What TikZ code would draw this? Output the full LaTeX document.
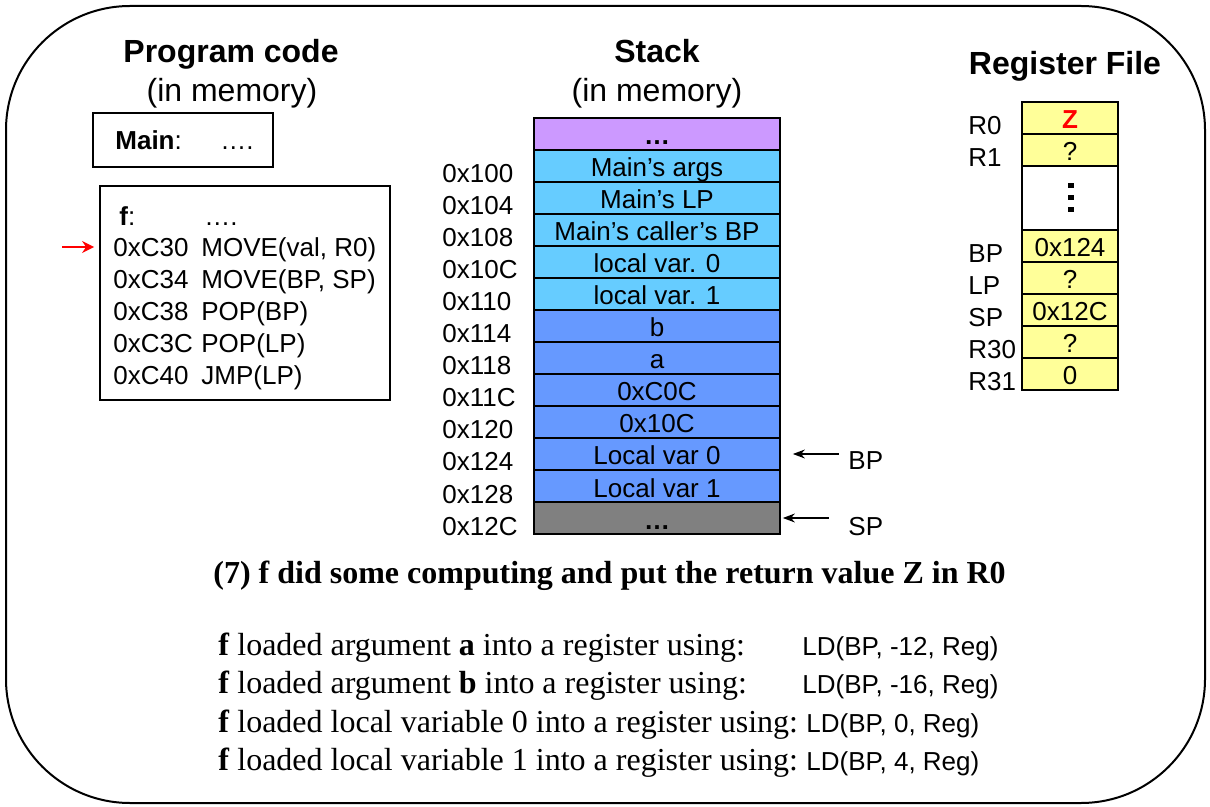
\documentclass[tikz,border=0pt]{standalone}
\usepackage{fontspec}
\setmainfont{Liberation Sans}
\newfontfamily\timesfont{Liberation Serif}
\usetikzlibrary{arrows.meta,calc}

\definecolor{stackpurple}{HTML}{CC99FF}
\definecolor{stackcyan}{HTML}{66CCFF}
\definecolor{stackblue}{HTML}{6699FF}
\definecolor{stackgray}{HTML}{808080}
\definecolor{regyellow}{HTML}{FFFF99}

\tikzset{
  txt/.style={anchor=base west, inner sep=0pt, font=\fontsize{13}{15}\selectfont},
  head/.style={anchor=base, inner sep=0pt, font=\fontsize{16}{19}\selectfont\bfseries},
  sub/.style={anchor=base, inner sep=0pt, font=\fontsize{16}{19}\selectfont},
  cell/.style={draw, line width=0.9pt, inner sep=0pt, minimum height=16pt,
    text height=12pt, text depth=1pt, font=\fontsize{13}{15}\selectfont},
  slot/.style={cell, minimum width=123pt},
  reg/.style={cell, minimum width=48pt, fill=regyellow},
  ptr/.style={-{Stealth[length=6pt,width=4.5pt]}, line width=0.6pt},
  note/.style={anchor=base west, inner sep=0pt, font=\timesfont\fontsize{16}{19}\selectfont},
}

\begin{document}
\begin{tikzpicture}[x=0.5pt, y=-0.5pt]
    \useasboundingbox (0,0) rectangle (1210,807);
    \draw[line width=1pt, rounded corners=62pt] (6,6) rectangle (1205,803);

    % program code
    \node[head] (pctitle) at (231,63) {Program code};
    \node[sub] (pcsub) at (232,102) {(in memory)};
    \node[draw, line width=0.9pt, minimum width=90pt, minimum height=27pt] (mainbox) at (183,140) {};
    \node[txt] (mainlbl) at (115,150) {\textbf{Main}:};
    \node[txt] (maindots) at (220,150) {….};
    \node[draw, line width=0.9pt, minimum width=145pt, minimum height=107pt] (fbox) at (245,293) {};
    \node[txt] (flbl) at (119,226) {\textbf{f}:};
    \node[txt] (fdots) at (204,226) {….};
    \foreach \addr/\ins [count=\k] in {0xC30/{MOVE(val, R0)}, 0xC34/{MOVE(BP, SP)},
        0xC38/{POP(BP)}, 0xC3C/{POP(LP)}, 0xC40/{JMP(LP)}} {
        \node[txt] (c\k) at (113,225+32*\k) {\addr};
        \node[txt] (i\k) at (201,225+32*\k) {\ins};
    }
    \coordinate (pc) at (62,247);
    \draw[red, line width=1pt, -{Stealth[length=6pt,width=6pt]}, shorten >=2.5pt] (pc) -- (pc -| fbox.west);

    % stack
    \node[head] (sttitle) at (657,63) {Stack};
    \node[sub] (stsub) at (657,102) {(in memory)};
    \foreach \txt/\col [count=\i from 0] in {{\textbf{…}}/stackpurple, {Main’s args}/stackcyan,
        {Main’s LP}/stackcyan, {Main’s caller’s BP}/stackcyan, {local var. 0}/stackcyan,
        {local var. 1}/stackcyan, b/stackblue, a/stackblue, 0xC0C/stackblue, 0x10C/stackblue,
        {Local var 0}/stackblue, {Local var 1}/stackblue, {\textbf{…}}/stackgray}
        \node[slot, fill=\col] (s\i) at (657,134+32*\i) {\txt};
    \foreach \a [count=\i from 0] in {0x100,0x104,0x108,0x10C,0x110,0x114,
        0x118,0x11C,0x120,0x124,0x128,0x12C}
        \node[txt] (a\i) at (442,183+32*\i) {\a};
    \node[txt] (bplbl) at (848,470) {BP};
    \draw[ptr] ([xshift=29pt]s10.east) -- ([xshift=6pt]s10.east);
    \node[txt] (splbl) at (848,535) {SP};
    \draw[ptr] ([xshift=24pt]s12.east) -- ([xshift=1pt]s12.east);

    % register file
    \node[head] (rftitle) at (1065,75) {Register File};
    \foreach \lbl/\val/\yc in {R0/{\textcolor{red}{\textbf{Z}}}/118, R1/?/150, BP/0x124/246,
        LP/?/278, SP/0x12C/310, R30/?/342, R31/0/374} {
        \node[reg] (r\lbl) at (1070,\yc) {\val};
        \node[txt] (l\lbl) at (968,\yc+17) {\lbl};
    }
    \node[cell, minimum width=48pt, minimum height=32pt] (rdots) at (1070,198) {};
    \foreach \d in {186,198,210}
        \fill (1068,\d-2.5) rectangle (1074,\d+2.5);

    % explanation
    \node[note, font=\timesfont\bfseries\fontsize{16}{19}\selectfont] (caption) at (213,583)
        {(7) f did some computing and put the return value Z in R0};
    \node[note] (n1) at (218,655) {\textbf{f} loaded argument \textbf{a} into a register using:};
    \node[note] (n2) at (218,693) {\textbf{f} loaded argument \textbf{b} into a register using:};
    \node[note] (n3) at (218,732) {\textbf{f} loaded local variable 0 into a register using:};
    \node[note] (n4) at (218,770) {\textbf{f} loaded local variable 1 into a register using:};
    \node[txt] (ld1) at (802,655) {LD(BP, -12, Reg)};
    \node[txt] (ld2) at (802,693) {LD(BP, -16, Reg)};
    \node[txt] (ld3) at (806,732) {LD(BP, 0, Reg)};
    \node[txt] (ld4) at (806,770) {LD(BP, 4, Reg)};
\end{tikzpicture}
\end{document}
